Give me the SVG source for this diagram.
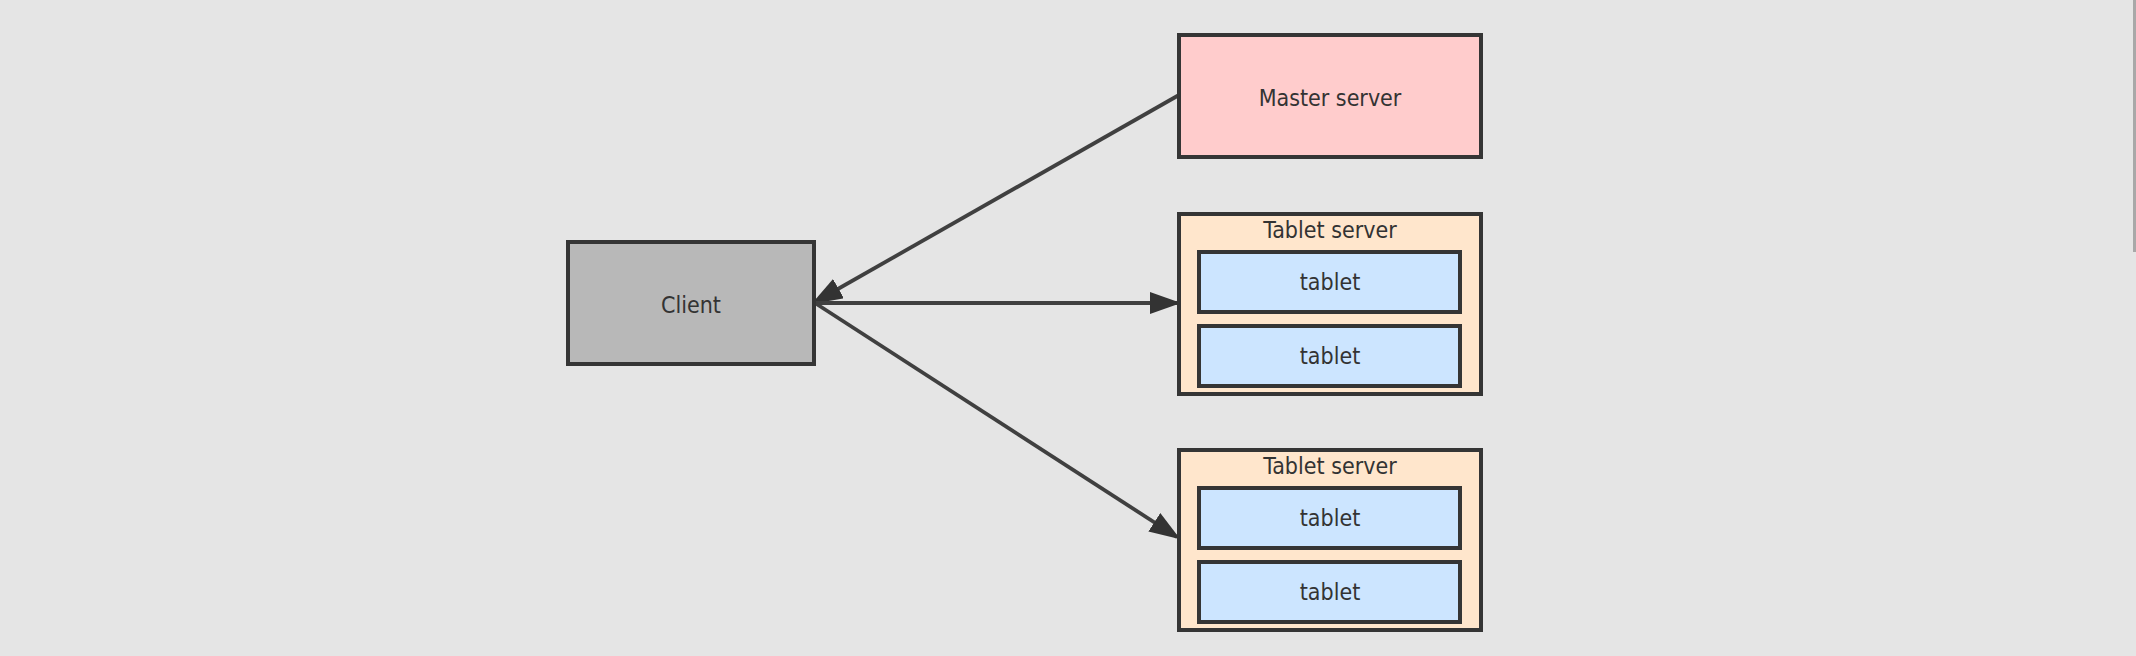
<svg xmlns="http://www.w3.org/2000/svg" width="2136" height="656" viewBox="0 0 2136 656">
<style>
.box{stroke:#353535;stroke-width:4}
.lbl{font-family:"DejaVu Sans Condensed","DejaVu Sans",sans-serif;font-size:23px;fill:#333333;text-anchor:middle}
.edge{stroke:#404040;stroke-width:3.8;fill:none}
</style>
<defs>
<marker id="ah" markerUnits="userSpaceOnUse" markerWidth="32" markerHeight="24" refX="27" refY="11" orient="auto">
<path d="M0,0 L31,11 L0,22 Z" fill="#333333"/>
</marker>
</defs>
<rect width="2136" height="656" fill="#e5e5e5"/>
<rect x="2133" y="0" width="3" height="252" fill="#a8a8a8"/>
<g id="edges">
<line class="edge" x1="1179" y1="95" x2="815" y2="302" marker-end="url(#ah)"/>
<line class="edge" x1="815" y1="303" x2="1177" y2="303" marker-end="url(#ah)"/>
<line class="edge" x1="815" y1="303" x2="1177" y2="537" marker-end="url(#ah)"/>
</g>
<g id="master">
<rect class="box" x="1179" y="35" width="302" height="122" fill="#ffcccc"/>
<text class="lbl" x="1330" y="106">Master server</text>
</g>
<g id="client">
<rect class="box" x="568" y="242" width="246" height="122" fill="#b8b8b8"/>
<text class="lbl" x="691" y="313">Client</text>
</g>
<g id="tabletserver1">
<rect class="box" x="1179" y="214" width="302" height="180" fill="#ffe6cc"/>
<text class="lbl" x="1330" y="238">Tablet server</text>
<g id="tablet1a">
<rect class="box" x="1199" y="252" width="261" height="60" fill="#cce5ff"/>
<text class="lbl" x="1330" y="290">tablet</text>
</g>
<g id="tablet1b">
<rect class="box" x="1199" y="326" width="261" height="60" fill="#cce5ff"/>
<text class="lbl" x="1330" y="364">tablet</text>
</g>
</g>
<g id="tabletserver2">
<rect class="box" x="1179" y="450" width="302" height="180" fill="#ffe6cc"/>
<text class="lbl" x="1330" y="474">Tablet server</text>
<g id="tablet2a">
<rect class="box" x="1199" y="488" width="261" height="60" fill="#cce5ff"/>
<text class="lbl" x="1330" y="526">tablet</text>
</g>
<g id="tablet2b">
<rect class="box" x="1199" y="562" width="261" height="60" fill="#cce5ff"/>
<text class="lbl" x="1330" y="600">tablet</text>
</g>
</g>
</svg>
